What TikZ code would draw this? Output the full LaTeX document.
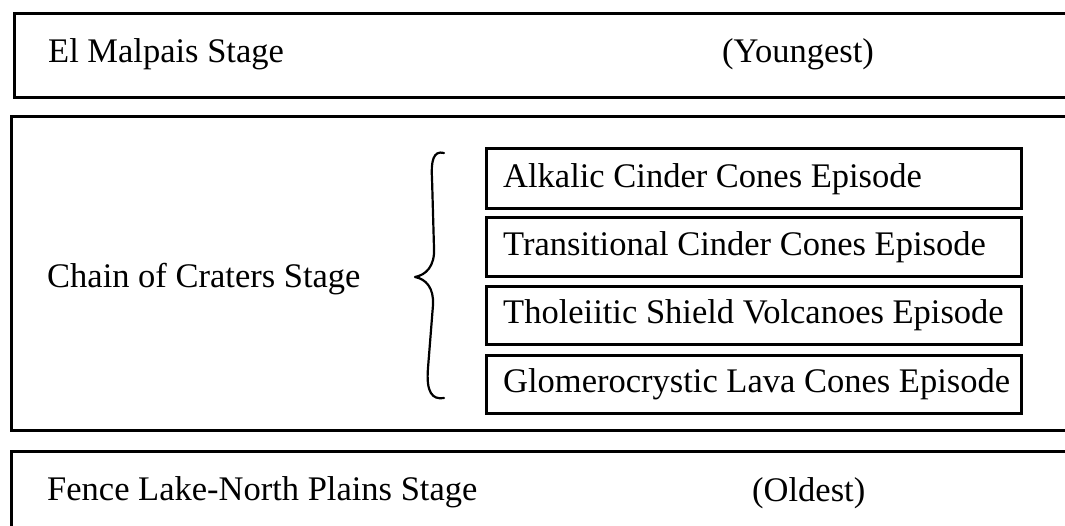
\documentclass[tikz,border=0pt]{standalone}
\usepackage{fontspec}
\setmainfont{Liberation Serif}
\begin{document}
\begin{tikzpicture}[x=1pt,y=-1pt,
  stagebox/.style={draw, line width=2.6pt, inner sep=0pt, anchor=north west},
  episodebox/.style={draw, line width=2.6pt, inner sep=0pt, anchor=north west, minimum width=535pt},
  lbl/.style={anchor=base west, inner sep=0pt, font=\fontsize{34.5}{40}\selectfont}]
\clip (0,0) rectangle (1065,525);
\fill[white] (0,0) rectangle (1065,525);
% stage boxes
\node[stagebox, minimum width=1100pt, minimum height=84pt] (b1) at (13,12) {};
\node[stagebox, minimum width=1100pt, minimum height=314pt] (b2) at (10,115) {};
\node[stagebox, minimum width=1100pt, minimum height=200pt] (b3) at (10,450) {};
% episode boxes
\node[episodebox, minimum height=60pt] (e1) at (485,147) {};
\node[episodebox, minimum height=59pt] (e2) at (485,216) {};
\node[episodebox, minimum height=58pt] (e3) at (485,285) {};
\node[episodebox, minimum height=58pt] (e4) at (485,354) {};
% labels
\node[lbl] (t1) at (48,62) {El Malpais Stage};
\node[lbl] (y1) at (722,62) {(Youngest)};
\node[lbl] (t2) at (47,287) {Chain of Craters Stage};
\node[lbl] (t3) at (47,500) {Fence Lake-North Plains Stage};
\node[lbl] (o3) at (752,501) {(Oldest)};
\node[lbl] (l1) at (503,187) {Alkalic Cinder Cones Episode};
\node[lbl] (l2) at (503,255) {Transitional Cinder Cones Episode};
\node[lbl] (l3) at (503,323) {Tholeiitic Shield Volcanoes Episode};
\node[lbl] (l4) at (503,392) {Glomerocrystic Lava Cones Episode};
% brace
\draw[line width=2.2pt, line cap=round, line join=round]
  (444,153) .. controls (433,150) and (431,162) .. (432,178)
  -- (434,248) .. controls (435,266) and (426,275) .. (415,277)
  .. controls (426,279) and (434,288) .. (433,305)
  -- (428,368) .. controls (426,392) and (432,400) .. (444,398);
\end{tikzpicture}
\end{document}
